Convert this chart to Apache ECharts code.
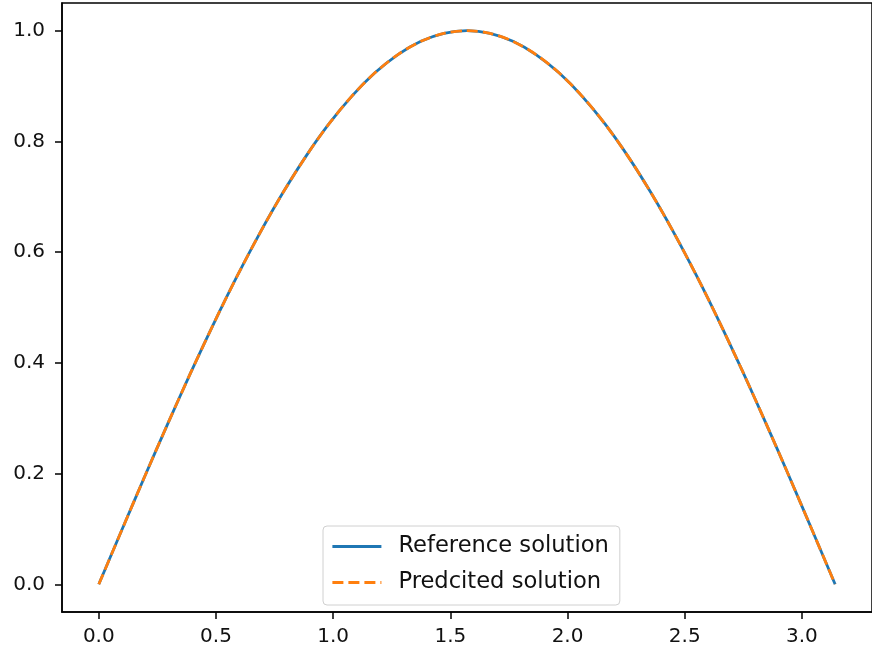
<!DOCTYPE html>
<html>
<head>
<meta charset="utf-8">
<script src="https://cdn.jsdelivr.net/npm/echarts@6/dist/echarts.min.js"></script>
<style>
html,body{margin:0;padding:0;background:#fff;}
#chart{width:872px;height:654px;}
</style>
</head>
<body>
<div id="chart"></div>
<script>
// x positions of the sampled points
var xValues = [0, 0.0982, 0.1963, 0.2945, 0.3927, 0.4909, 0.5890, 0.6872, 0.7854, 0.8836, 0.9817, 1.0799, 1.1781, 1.2763, 1.3744, 1.4726, 1.5708, 1.6690, 1.7671, 1.8653, 1.9635, 2.0617, 2.1598, 2.2580, 2.3562, 2.4544, 2.5525, 2.6507, 2.7489, 2.8471, 2.9452, 3.0434, 3.1416];
// Reference solution values
var referenceValues = [0, 0.0980, 0.1951, 0.2903, 0.3827, 0.4714, 0.5556, 0.6344, 0.7071, 0.7730, 0.8315, 0.8819, 0.9239, 0.9569, 0.9808, 0.9952, 1.0, 0.9952, 0.9808, 0.9569, 0.9239, 0.8819, 0.8315, 0.7730, 0.7071, 0.6344, 0.5556, 0.4714, 0.3827, 0.2903, 0.1951, 0.0980, 0];
// Predicted solution values
var predictedValues = [0, 0.0980, 0.1951, 0.2903, 0.3827, 0.4714, 0.5556, 0.6344, 0.7071, 0.7730, 0.8315, 0.8819, 0.9239, 0.9569, 0.9808, 0.9952, 1.0, 0.9952, 0.9808, 0.9569, 0.9239, 0.8819, 0.8315, 0.7730, 0.7071, 0.6344, 0.5556, 0.4714, 0.3827, 0.2903, 0.1951, 0.0980, 0];
var xTicks = [0, 0.5, 1.0, 1.5, 2.0, 2.5, 3.0];
var yTicks = [0, 0.2, 0.4, 0.6, 0.8, 1.0];
var seriesNames = ['Reference solution', 'Predcited solution'];

function pairs(xs, ys) {
  return xs.map(function (x, i) { return [x, ys[i]]; });
}

var chart = echarts.init(document.getElementById('chart'), null, {renderer: 'canvas'});
var font = 'DejaVu Sans';
chart.setOption({
  animation: false,
  backgroundColor: '#fff',
  textStyle: {fontFamily: font},
  grid: {
    left: 62, top: 3, right: -8, bottom: 42,
    show: true, borderColor: '#000', borderWidth: 1.5, backgroundColor: 'transparent'
  },
  legend: {
    left: 323, top: 526,
    orient: 'vertical',
    padding: [9, 11, 11, 8],
    itemGap: 13,
    itemWidth: 49,
    itemHeight: 20,
    backgroundColor: '#fff',
    borderColor: '#d0d0d0',
    borderWidth: 1,
    borderRadius: 4,
    itemStyle: {opacity: 0},
    lineStyle: {width: 2.8},
    textStyle: {fontFamily: font, fontSize: 22.6, color: '#111', padding: [0, 0, 0, 12]},
    data: seriesNames
  },
  xAxis: {
    type: 'value',
    min: -0.157, max: 3.299,
    axisLine: {show: true, onZero: false, lineStyle: {color: '#000', width: 1.5}},
    axisTick: {show: true, length: 7, lineStyle: {color: '#000', width: 1.5}, customValues: xTicks},
    axisLabel: {
      customValues: xTicks, margin: 15, fontSize: 20, color: '#111', fontFamily: font,
      formatter: function (v) { return v.toFixed(1); }
    },
    splitLine: {show: false}
  },
  yAxis: {
    type: 'value',
    min: -0.05, max: 1.05,
    axisLine: {show: true, onZero: false, lineStyle: {color: '#000', width: 1.5}},
    axisTick: {show: true, length: 7, lineStyle: {color: '#000', width: 1.5}, customValues: yTicks},
    axisLabel: {
      customValues: yTicks, margin: 17, fontSize: 20, color: '#111', fontFamily: font,
      formatter: function (v) { return v.toFixed(1); }
    },
    splitLine: {show: false}
  },
  series: [
    {
      name: seriesNames[0], type: 'line', symbol: 'none', smooth: 0.3,
      data: pairs(xValues, referenceValues),
      itemStyle: {color: '#1f77b4'},
      lineStyle: {color: '#1f77b4', width: 2.8}
    },
    {
      name: seriesNames[1], type: 'line', symbol: 'none', smooth: 0.3,
      data: pairs(xValues, predictedValues),
      itemStyle: {color: '#ff7f0e'},
      lineStyle: {color: '#ff7f0e', width: 2.8, type: [11, 5]}
    }
  ]
});
</script>
</body>
</html>
